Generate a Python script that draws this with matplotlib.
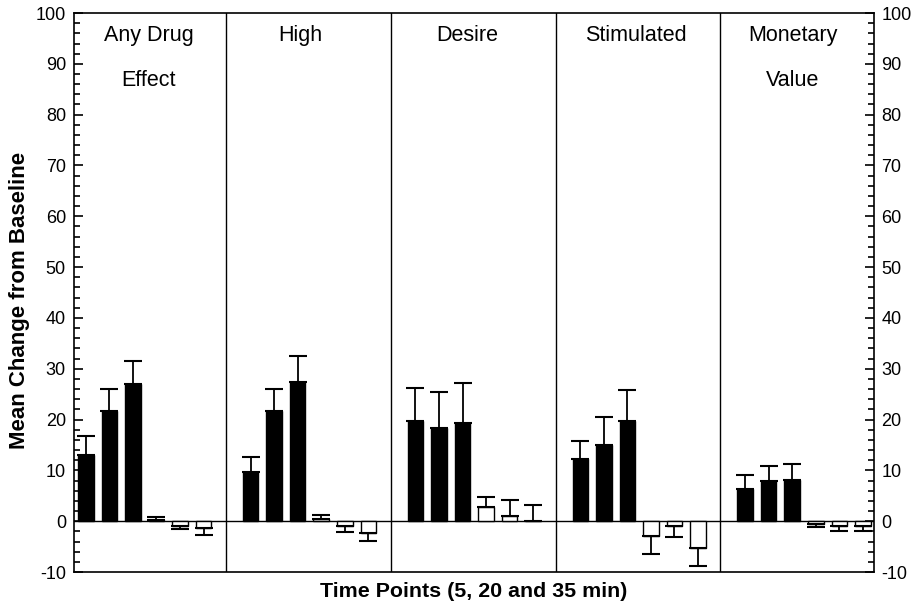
import matplotlib
matplotlib.use("Agg")
import matplotlib.pyplot as plt
import numpy as np
from matplotlib.ticker import MultipleLocator

plt.rcParams['font.family'] = ['Liberation Sans', 'DejaVu Sans']
plt.rcParams['axes.unicode_minus'] = False

panels = ["Any Drug\nEffect", "High", "Desire", "Stimulated", "Monetary\nValue"]

any_drug = [13.0, 21.6, 26.9, 0.3, -0.9, -1.4]
any_drug_err = [3.8, 4.5, 4.7, 0.55, 0.7, 1.4]
high = [9.7, 21.6, 27.4, 0.5, -0.9, -2.4]
high_err = [2.9, 4.5, 5.2, 0.7, 1.2, 1.5]
desire = [19.8, 18.3, 19.3, 2.7, 1.1, 0.0]
desire_err = [6.5, 7.2, 7.9, 2.0, 3.1, 3.2]
stimulated = [12.2, 15.0, 19.8, -3.0, -0.9, -5.2]
stimulated_err = [3.6, 5.6, 6.1, 3.4, 2.2, 3.7]
monetary = [6.3, 7.9, 8.2, -0.5, -1.0, -1.0]
monetary_err = [2.8, 3.0, 3.1, 0.7, 0.9, 0.9]

values = [any_drug, high, desire, stimulated, monetary]
errors = [any_drug_err, high_err, desire_err, stimulated_err, monetary_err]
fills = ["black", "black", "black", "white", "white", "white"]
title_offsets = [2.66, 2.11, 2.19, 2.36, 2.02]

fig = plt.figure(figsize=(9.17, 6.08), dpi=100)
ax = fig.add_axes([0.0802, 0.0592, 0.953 - 0.0802, 0.9786 - 0.0592])

for i, (vals, errs) in enumerate(zip(values, errors)):
    x = np.arange(6) + i * 7
    ax.bar(x, vals, width=0.66, color=fills, edgecolor="black", linewidth=1.0, zorder=2)
    vals = np.array(vals)
    errs = np.array(errs)
    lower = np.where(vals < 0, errs, 0)
    upper = np.where(vals >= 0, errs, 0)
    ax.errorbar(x, vals, yerr=[lower, upper], fmt="none", ecolor="black",
                elinewidth=1.3, capsize=6.4, capthick=1.5, zorder=3)
    cx = i * 7 + title_offsets[i]
    for k, line in enumerate(panels[i].split("\n")):
        ax.text(cx, 95.6 - 8.9 * k, line, ha="center", va="center", fontsize=15.5)
    if i > 0:
        ax.axvline(i * 7 - 1.05, color="black", linewidth=1.0, zorder=1)

ax.axhline(0, color="black", linewidth=1.0, zorder=1)
ax.set_xlim(-0.52, 33.47)
ax.set_ylim(-10, 100)
ax.set_xticks([])
ax.yaxis.set_major_locator(MultipleLocator(10))
ax.yaxis.set_minor_locator(MultipleLocator(2))
ax.tick_params(axis="y", which="both", direction="in", left=True, right=True,
               labelleft=True, labelright=True, labelsize=13, width=1.2)
ax.tick_params(axis="y", which="major", length=6.7, pad=5.5)
ax.tick_params(axis="y", which="minor", length=4.3)
for s in ax.spines.values():
    s.set_linewidth(1.2)

ax.set_xlabel("Time Points (5, 20 and 35 min)", fontsize=15.4, fontweight="bold", labelpad=7)
ax.set_ylabel("Mean Change from Baseline", fontsize=16, fontweight="bold")
ax.yaxis.set_label_coords(-0.055, (572 - 300) / (572 - 13))

fig.savefig("out.png", dpi=100)
